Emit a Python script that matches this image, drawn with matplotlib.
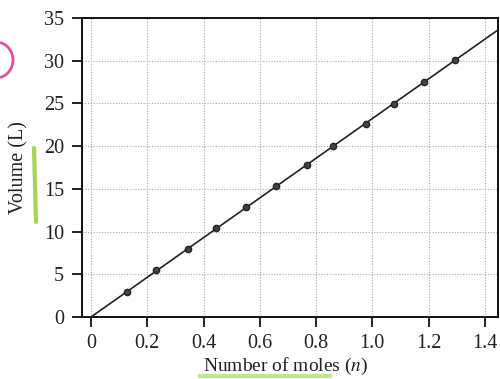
import matplotlib
matplotlib.use("Agg")
import matplotlib.pyplot as plt
from matplotlib.patches import Arc
from matplotlib.lines import Line2D

# dati
moles = [0.128, 0.231, 0.345, 0.444, 0.551, 0.657, 0.768, 0.860, 0.977, 1.077, 1.183, 1.294]
volume = [2.9, 5.5, 8.0, 10.4, 12.9, 15.3, 17.8, 20.0, 22.6, 24.9, 27.5, 30.1]
fit_n = [0.0, 1.447]
fit_v = [0.0, 33.6]
x_ticks = [0, 0.2, 0.4, 0.6, 0.8, 1.0, 1.2, 1.4]
x_labels = ["0", "0.2", "0.4", "0.6", "0.8", "1.0", "1.2", "1.4"]
y_ticks = [0, 5, 10, 15, 20, 25, 30, 35]

plt.rcParams["font.family"] = ["Liberation Serif", "DejaVu Serif"]
plt.rcParams["mathtext.fontset"] = "stix"

fig = plt.figure(figsize=(5.0, 3.79), dpi=100)
ax = fig.add_axes([0.164, 0.1636, 0.832, 0.789])

ax.plot(fit_n, fit_v, color="#222222", lw=1.2, zorder=3)
ax.plot(moles, volume, "o", color="#444444", mec="#222222", ms=4.5, zorder=4)

ax.set_xlim(-0.032, 1.447)
ax.set_ylim(0, 35)
ax.set_xticks(x_ticks)
ax.set_xticklabels(x_labels)
ax.set_yticks(y_ticks)
ax.grid(True, ls=(0, (1, 1.5)), color="#aaaaaa", lw=0.8)

for s in ax.spines.values():
    s.set_linewidth(1.4)
    s.set_color("#111111")
ax.tick_params(axis="both", direction="out", length=7, width=1.4, labelsize=14.5, colors="#222222")
ax.tick_params(axis="y", pad=6)
ax.tick_params(axis="x", pad=5)

ax.set_xlabel("Number of moles ($n$)", fontsize=14, color="#222222")
ax.set_ylabel("Volume (L)", fontsize=14.5, color="#222222")
ax.xaxis.set_label_coords(0.49, -0.13)
ax.yaxis.set_label_coords(-0.128, 0.5)

# segni a evidenziatore sulla pagina
fig.add_artist(Line2D([34 / 500, 36 / 500], [1 - 148 / 379, 1 - 222 / 379],
                      color="#9acd32", lw=3, alpha=0.85, solid_capstyle="round"))
fig.add_artist(Line2D([200 / 500, 330 / 500], [1 - 376 / 379, 1 - 376 / 379],
                      color="#b5e36a", lw=3, alpha=0.8))
fig.add_artist(Arc((-4 / 500, 1 - 60 / 379), 34 / 500, 36 / 379, theta1=-80, theta2=80,
                   transform=fig.transFigure, color="#e0509a", lw=2))

fig.savefig("out.png", dpi=100)
